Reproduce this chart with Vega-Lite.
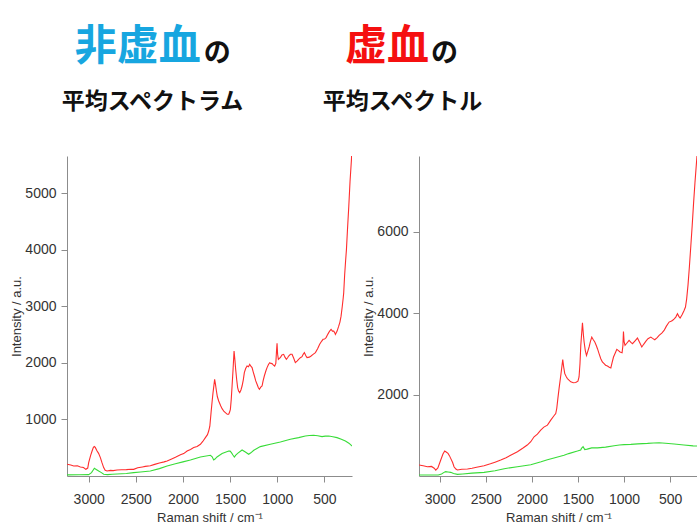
{
  "$schema": "https://vega.github.io/schema/vega-lite/v6.json",
  "padding": {"left": 10, "top": 26, "right": 0, "bottom": 0},
  "spacing": -30,
  "config": {
    "font": "Liberation Sans",
    "view": {"stroke": null},
    "axis": {"domainColor": "#8c8c8c", "tickColor": "#8c8c8c", "labelColor": "#333333", "titleColor": "#333333", "labelFontSize": 14, "titleFontSize": 13, "titleFontWeight": "normal", "grid": false, "tickSize": 6, "labelFont": "Liberation Sans", "titleFont": "Liberation Sans"},
    "title": {"font": "Noto Sans CJK JP", "fontWeight": "bold"}
  },
  "datasets": {
    "nonIsch": [
      {"shift":3229,"intensity":207,"trace":"mean"},{"shift":3190,"intensity":195,"trace":"mean"},{"shift":3159,"intensity":178,"trace":"mean"},{"shift":3120,"intensity":182,"trace":"mean"},{"shift":3088,"intensity":160,"trace":"mean"},{"shift":3055,"intensity":150,"trace":"mean"},{"shift":3030,"intensity":118,"trace":"mean"},{"shift":3010,"intensity":140,"trace":"mean"},{"shift":3000,"intensity":237,"trace":"mean"},{"shift":2980,"intensity":360,"trace":"mean"},{"shift":2964,"intensity":442,"trace":"mean"},{"shift":2950,"intensity":505,"trace":"mean"},{"shift":2940,"intensity":520,"trace":"mean"},{"shift":2930,"intensity":505,"trace":"mean"},{"shift":2911,"intensity":442,"trace":"mean"},{"shift":2895,"intensity":400,"trace":"mean"},{"shift":2876,"intensity":325,"trace":"mean"},{"shift":2860,"intensity":240,"trace":"mean"},{"shift":2841,"intensity":148,"trace":"mean"},{"shift":2825,"intensity":100,"trace":"mean"},{"shift":2805,"intensity":88,"trace":"mean"},{"shift":2770,"intensity":100,"trace":"mean"},{"shift":2740,"intensity":95,"trace":"mean"},{"shift":2699,"intensity":106,"trace":"mean"},{"shift":2650,"intensity":110,"trace":"mean"},{"shift":2600,"intensity":112,"trace":"mean"},{"shift":2550,"intensity":120,"trace":"mean"},{"shift":2523,"intensity":118,"trace":"mean"},{"shift":2480,"intensity":145,"trace":"mean"},{"shift":2430,"intensity":160,"trace":"mean"},{"shift":2400,"intensity":170,"trace":"mean"},{"shift":2346,"intensity":180,"trace":"mean"},{"shift":2300,"intensity":205,"trace":"mean"},{"shift":2250,"intensity":230,"trace":"mean"},{"shift":2200,"intensity":250,"trace":"mean"},{"shift":2168,"intensity":265,"trace":"mean"},{"shift":2120,"intensity":300,"trace":"mean"},{"shift":2080,"intensity":330,"trace":"mean"},{"shift":2027,"intensity":375,"trace":"mean"},{"shift":1992,"intensity":396,"trace":"mean"},{"shift":1956,"intensity":442,"trace":"mean"},{"shift":1920,"intensity":470,"trace":"mean"},{"shift":1886,"intensity":502,"trace":"mean"},{"shift":1850,"intensity":520,"trace":"mean"},{"shift":1815,"intensity":560,"trace":"mean"},{"shift":1790,"intensity":610,"trace":"mean"},{"shift":1762,"intensity":678,"trace":"mean"},{"shift":1740,"intensity":730,"trace":"mean"},{"shift":1727,"intensity":795,"trace":"mean"},{"shift":1715,"intensity":880,"trace":"mean"},{"shift":1702,"intensity":1120,"trace":"mean"},{"shift":1690,"intensity":1330,"trace":"mean"},{"shift":1681,"intensity":1473,"trace":"mean"},{"shift":1664,"intensity":1708,"trace":"mean"},{"shift":1655,"intensity":1620,"trace":"mean"},{"shift":1645,"intensity":1502,"trace":"mean"},{"shift":1635,"intensity":1400,"trace":"mean"},{"shift":1621,"intensity":1325,"trace":"mean"},{"shift":1600,"intensity":1240,"trace":"mean"},{"shift":1585,"intensity":1190,"trace":"mean"},{"shift":1565,"intensity":1140,"trace":"mean"},{"shift":1550,"intensity":1120,"trace":"mean"},{"shift":1530,"intensity":1090,"trace":"mean"},{"shift":1515,"intensity":1090,"trace":"mean"},{"shift":1505,"intensity":1130,"trace":"mean"},{"shift":1497,"intensity":1178,"trace":"mean"},{"shift":1488,"intensity":1350,"trace":"mean"},{"shift":1479,"intensity":1590,"trace":"mean"},{"shift":1468,"intensity":1900,"trace":"mean"},{"shift":1458,"intensity":2208,"trace":"mean"},{"shift":1449,"intensity":2050,"trace":"mean"},{"shift":1441,"intensity":1885,"trace":"mean"},{"shift":1430,"intensity":1700,"trace":"mean"},{"shift":1420,"intensity":1562,"trace":"mean"},{"shift":1410,"intensity":1500,"trace":"mean"},{"shift":1398,"intensity":1473,"trace":"mean"},{"shift":1385,"intensity":1520,"trace":"mean"},{"shift":1373,"intensity":1590,"trace":"mean"},{"shift":1360,"intensity":1700,"trace":"mean"},{"shift":1349,"intensity":1827,"trace":"mean"},{"shift":1335,"intensity":1900,"trace":"mean"},{"shift":1320,"intensity":1943,"trace":"mean"},{"shift":1305,"intensity":1930,"trace":"mean"},{"shift":1292,"intensity":1973,"trace":"mean"},{"shift":1280,"intensity":1940,"trace":"mean"},{"shift":1267,"intensity":1915,"trace":"mean"},{"shift":1255,"intensity":1840,"trace":"mean"},{"shift":1242,"intensity":1767,"trace":"mean"},{"shift":1228,"intensity":1680,"trace":"mean"},{"shift":1214,"intensity":1620,"trace":"mean"},{"shift":1200,"intensity":1560,"trace":"mean"},{"shift":1189,"intensity":1532,"trace":"mean"},{"shift":1175,"intensity":1570,"trace":"mean"},{"shift":1161,"intensity":1590,"trace":"mean"},{"shift":1150,"intensity":1680,"trace":"mean"},{"shift":1137,"intensity":1767,"trace":"mean"},{"shift":1120,"intensity":1860,"trace":"mean"},{"shift":1108,"intensity":1915,"trace":"mean"},{"shift":1093,"intensity":1970,"trace":"mean"},{"shift":1080,"intensity":2003,"trace":"mean"},{"shift":1068,"intensity":1990,"trace":"mean"},{"shift":1055,"intensity":1986,"trace":"mean"},{"shift":1040,"intensity":1960,"trace":"mean"},{"shift":1027,"intensity":1943,"trace":"mean"},{"shift":1015,"intensity":1990,"trace":"mean"},{"shift":1008,"intensity":2200,"trace":"mean"},{"shift":1002,"intensity":2345,"trace":"mean"},{"shift":996,"intensity":2150,"trace":"mean"},{"shift":988,"intensity":2062,"trace":"mean"},{"shift":977,"intensity":2080,"trace":"mean"},{"shift":967,"intensity":2092,"trace":"mean"},{"shift":950,"intensity":2140,"trace":"mean"},{"shift":932,"intensity":2150,"trace":"mean"},{"shift":918,"intensity":2100,"trace":"mean"},{"shift":903,"intensity":2062,"trace":"mean"},{"shift":890,"intensity":2090,"trace":"mean"},{"shift":879,"intensity":2120,"trace":"mean"},{"shift":860,"intensity":2150,"trace":"mean"},{"shift":843,"intensity":2150,"trace":"mean"},{"shift":825,"intensity":2080,"trace":"mean"},{"shift":808,"intensity":2003,"trace":"mean"},{"shift":790,"intensity":2030,"trace":"mean"},{"shift":773,"intensity":2062,"trace":"mean"},{"shift":755,"intensity":2090,"trace":"mean"},{"shift":737,"intensity":2109,"trace":"mean"},{"shift":725,"intensity":2150,"trace":"mean"},{"shift":712,"intensity":2180,"trace":"mean"},{"shift":698,"intensity":2130,"trace":"mean"},{"shift":684,"intensity":2092,"trace":"mean"},{"shift":660,"intensity":2100,"trace":"mean"},{"shift":641,"intensity":2120,"trace":"mean"},{"shift":620,"intensity":2150,"trace":"mean"},{"shift":595,"intensity":2180,"trace":"mean"},{"shift":572,"intensity":2250,"trace":"mean"},{"shift":550,"intensity":2327,"trace":"mean"},{"shift":530,"intensity":2380,"trace":"mean"},{"shift":514,"intensity":2415,"trace":"mean"},{"shift":498,"intensity":2420,"trace":"mean"},{"shift":482,"intensity":2445,"trace":"mean"},{"shift":468,"intensity":2490,"trace":"mean"},{"shift":454,"intensity":2533,"trace":"mean"},{"shift":440,"intensity":2570,"trace":"mean"},{"shift":429,"intensity":2592,"trace":"mean"},{"shift":415,"intensity":2560,"trace":"mean"},{"shift":401,"intensity":2560,"trace":"mean"},{"shift":390,"intensity":2530,"trace":"mean"},{"shift":383,"intensity":2500,"trace":"mean"},{"shift":365,"intensity":2560,"trace":"mean"},{"shift":348,"intensity":2647,"trace":"mean"},{"shift":335,"intensity":2720,"trace":"mean"},{"shift":323,"intensity":2824,"trace":"mean"},{"shift":310,"intensity":3000,"trace":"mean"},{"shift":300,"intensity":3150,"trace":"mean"},{"shift":295,"intensity":3235,"trace":"mean"},{"shift":285,"intensity":3550,"trace":"mean"},{"shift":275,"intensity":3800,"trace":"mean"},{"shift":266,"intensity":4000,"trace":"mean"},{"shift":255,"intensity":4350,"trace":"mean"},{"shift":241,"intensity":4765,"trace":"mean"},{"shift":228,"intensity":5200,"trace":"mean"},{"shift":213,"intensity":5588,"trace":"mean"},{"shift":205,"intensity":5900,"trace":"mean"},
      {"shift":3229,"intensity":20,"trace":"sd"},{"shift":3100,"intensity":22,"trace":"sd"},{"shift":3000,"intensity":25,"trace":"sd"},{"shift":2970,"intensity":60,"trace":"sd"},{"shift":2950,"intensity":110,"trace":"sd"},{"shift":2940,"intensity":136,"trace":"sd"},{"shift":2920,"intensity":115,"trace":"sd"},{"shift":2894,"intensity":88,"trace":"sd"},{"shift":2865,"intensity":60,"trace":"sd"},{"shift":2841,"intensity":30,"trace":"sd"},{"shift":2800,"intensity":25,"trace":"sd"},{"shift":2750,"intensity":30,"trace":"sd"},{"shift":2699,"intensity":35,"trace":"sd"},{"shift":2600,"intensity":45,"trace":"sd"},{"shift":2523,"intensity":60,"trace":"sd"},{"shift":2450,"intensity":70,"trace":"sd"},{"shift":2346,"intensity":88,"trace":"sd"},{"shift":2250,"intensity":130,"trace":"sd"},{"shift":2168,"intensity":177,"trace":"sd"},{"shift":2080,"intensity":215,"trace":"sd"},{"shift":2000,"intensity":250,"trace":"sd"},{"shift":1921,"intensity":283,"trace":"sd"},{"shift":1815,"intensity":336,"trace":"sd"},{"shift":1709,"intensity":366,"trace":"sd"},{"shift":1690,"intensity":340,"trace":"sd"},{"shift":1674,"intensity":285,"trace":"sd"},{"shift":1660,"intensity":300,"trace":"sd"},{"shift":1639,"intensity":336,"trace":"sd"},{"shift":1585,"intensity":396,"trace":"sd"},{"shift":1515,"intensity":442,"trace":"sd"},{"shift":1500,"intensity":440,"trace":"sd"},{"shift":1486,"intensity":413,"trace":"sd"},{"shift":1470,"intensity":370,"trace":"sd"},{"shift":1455,"intensity":336,"trace":"sd"},{"shift":1440,"intensity":370,"trace":"sd"},{"shift":1420,"intensity":401,"trace":"sd"},{"shift":1373,"intensity":460,"trace":"sd"},{"shift":1338,"intensity":424,"trace":"sd"},{"shift":1303,"intensity":383,"trace":"sd"},{"shift":1280,"intensity":410,"trace":"sd"},{"shift":1249,"intensity":454,"trace":"sd"},{"shift":1179,"intensity":519,"trace":"sd"},{"shift":1073,"intensity":560,"trace":"sd"},{"shift":967,"intensity":601,"trace":"sd"},{"shift":861,"intensity":648,"trace":"sd"},{"shift":773,"intensity":678,"trace":"sd"},{"shift":702,"intensity":707,"trace":"sd"},{"shift":660,"intensity":715,"trace":"sd"},{"shift":614,"intensity":719,"trace":"sd"},{"shift":570,"intensity":710,"trace":"sd"},{"shift":525,"intensity":696,"trace":"sd"},{"shift":490,"intensity":705,"trace":"sd"},{"shift":454,"intensity":707,"trace":"sd"},{"shift":410,"intensity":695,"trace":"sd"},{"shift":366,"intensity":678,"trace":"sd"},{"shift":320,"intensity":650,"trace":"sd"},{"shift":277,"intensity":618,"trace":"sd"},{"shift":240,"intensity":580,"trace":"sd"},{"shift":206,"intensity":530,"trace":"sd"}
    ],
    "isch": [
      {"shift":3225,"intensity":270,"trace":"mean"},{"shift":3180,"intensity":250,"trace":"mean"},{"shift":3134,"intensity":228,"trace":"mean"},{"shift":3090,"intensity":235,"trace":"mean"},{"shift":3060,"intensity":190,"trace":"mean"},{"shift":3043,"intensity":145,"trace":"mean"},{"shift":3020,"intensity":200,"trace":"mean"},{"shift":2989,"intensity":392,"trace":"mean"},{"shift":2965,"intensity":540,"trace":"mean"},{"shift":2946,"intensity":612,"trace":"mean"},{"shift":2930,"intensity":590,"trace":"mean"},{"shift":2910,"intensity":555,"trace":"mean"},{"shift":2895,"intensity":500,"trace":"mean"},{"shift":2881,"intensity":433,"trace":"mean"},{"shift":2860,"intensity":330,"trace":"mean"},{"shift":2845,"intensity":228,"trace":"mean"},{"shift":2825,"intensity":170,"trace":"mean"},{"shift":2808,"intensity":147,"trace":"mean"},{"shift":2760,"intensity":165,"trace":"mean"},{"shift":2699,"intensity":171,"trace":"mean"},{"shift":2650,"intensity":190,"trace":"mean"},{"shift":2600,"intensity":215,"trace":"mean"},{"shift":2519,"intensity":252,"trace":"mean"},{"shift":2450,"intensity":300,"trace":"mean"},{"shift":2400,"intensity":340,"trace":"mean"},{"shift":2338,"intensity":392,"trace":"mean"},{"shift":2280,"intensity":450,"trace":"mean"},{"shift":2220,"intensity":520,"trace":"mean"},{"shift":2157,"intensity":596,"trace":"mean"},{"shift":2100,"intensity":680,"trace":"mean"},{"shift":2050,"intensity":760,"trace":"mean"},{"shift":2012,"intensity":842,"trace":"mean"},{"shift":1976,"intensity":963,"trace":"mean"},{"shift":1940,"intensity":1030,"trace":"mean"},{"shift":1904,"intensity":1126,"trace":"mean"},{"shift":1870,"intensity":1200,"trace":"mean"},{"shift":1831,"intensity":1248,"trace":"mean"},{"shift":1795,"intensity":1371,"trace":"mean"},{"shift":1760,"intensity":1480,"trace":"mean"},{"shift":1741,"intensity":1535,"trace":"mean"},{"shift":1730,"intensity":1657,"trace":"mean"},{"shift":1718,"intensity":1900,"trace":"mean"},{"shift":1705,"intensity":2147,"trace":"mean"},{"shift":1686,"intensity":2473,"trace":"mean"},{"shift":1665,"intensity":2857,"trace":"mean"},{"shift":1655,"intensity":2680,"trace":"mean"},{"shift":1643,"intensity":2514,"trace":"mean"},{"shift":1625,"intensity":2430,"trace":"mean"},{"shift":1614,"intensity":2392,"trace":"mean"},{"shift":1578,"intensity":2311,"trace":"mean"},{"shift":1550,"intensity":2290,"trace":"mean"},{"shift":1524,"intensity":2294,"trace":"mean"},{"shift":1500,"intensity":2330,"trace":"mean"},{"shift":1488,"intensity":2433,"trace":"mean"},{"shift":1478,"intensity":2750,"trace":"mean"},{"shift":1469,"intensity":3207,"trace":"mean"},{"shift":1451,"intensity":3763,"trace":"mean"},{"shift":1440,"intensity":3450,"trace":"mean"},{"shift":1433,"intensity":3290,"trace":"mean"},{"shift":1420,"intensity":3080,"trace":"mean"},{"shift":1407,"intensity":2962,"trace":"mean"},{"shift":1395,"intensity":3050,"trace":"mean"},{"shift":1379,"intensity":3168,"trace":"mean"},{"shift":1365,"intensity":3300,"trace":"mean"},{"shift":1350,"intensity":3412,"trace":"mean"},{"shift":1335,"intensity":3350,"trace":"mean"},{"shift":1317,"intensity":3290,"trace":"mean"},{"shift":1300,"intensity":3200,"trace":"mean"},{"shift":1288,"intensity":3126,"trace":"mean"},{"shift":1270,"intensity":3000,"trace":"mean"},{"shift":1252,"intensity":2881,"trace":"mean"},{"shift":1235,"intensity":2800,"trace":"mean"},{"shift":1216,"intensity":2759,"trace":"mean"},{"shift":1200,"intensity":2720,"trace":"mean"},{"shift":1180,"intensity":2702,"trace":"mean"},{"shift":1160,"intensity":2670,"trace":"mean"},{"shift":1143,"intensity":2653,"trace":"mean"},{"shift":1130,"intensity":2780,"trace":"mean"},{"shift":1114,"intensity":2922,"trace":"mean"},{"shift":1095,"intensity":3020,"trace":"mean"},{"shift":1078,"intensity":3109,"trace":"mean"},{"shift":1060,"intensity":3080,"trace":"mean"},{"shift":1043,"intensity":3045,"trace":"mean"},{"shift":1021,"intensity":3028,"trace":"mean"},{"shift":1012,"intensity":3200,"trace":"mean"},{"shift":1006,"intensity":3550,"trace":"mean"},{"shift":999,"intensity":3300,"trace":"mean"},{"shift":989,"intensity":3207,"trace":"mean"},{"shift":970,"intensity":3260,"trace":"mean"},{"shift":945,"intensity":3329,"trace":"mean"},{"shift":925,"intensity":3280,"trace":"mean"},{"shift":908,"intensity":3248,"trace":"mean"},{"shift":880,"intensity":3320,"trace":"mean"},{"shift":854,"intensity":3388,"trace":"mean"},{"shift":830,"intensity":3280,"trace":"mean"},{"shift":807,"intensity":3168,"trace":"mean"},{"shift":785,"intensity":3240,"trace":"mean"},{"shift":764,"intensity":3305,"trace":"mean"},{"shift":740,"intensity":3370,"trace":"mean"},{"shift":709,"intensity":3412,"trace":"mean"},{"shift":690,"intensity":3380,"trace":"mean"},{"shift":666,"intensity":3346,"trace":"mean"},{"shift":640,"intensity":3400,"trace":"mean"},{"shift":619,"intensity":3452,"trace":"mean"},{"shift":590,"intensity":3510,"trace":"mean"},{"shift":565,"intensity":3574,"trace":"mean"},{"shift":540,"intensity":3680,"trace":"mean"},{"shift":511,"intensity":3780,"trace":"mean"},{"shift":490,"intensity":3800,"trace":"mean"},{"shift":474,"intensity":3819,"trace":"mean"},{"shift":455,"intensity":3860,"trace":"mean"},{"shift":438,"intensity":3902,"trace":"mean"},{"shift":420,"intensity":3983,"trace":"mean"},{"shift":405,"intensity":3920,"trace":"mean"},{"shift":391,"intensity":3877,"trace":"mean"},{"shift":370,"intensity":3960,"trace":"mean"},{"shift":348,"intensity":4064,"trace":"mean"},{"shift":333,"intensity":4150,"trace":"mean"},{"shift":320,"intensity":4350,"trace":"mean"},{"shift":305,"intensity":4700,"trace":"mean"},{"shift":290,"intensity":5150,"trace":"mean"},{"shift":275,"intensity":5650,"trace":"mean"},{"shift":260,"intensity":6150,"trace":"mean"},{"shift":245,"intensity":6700,"trace":"mean"},{"shift":230,"intensity":7200,"trace":"mean"},{"shift":215,"intensity":7650,"trace":"mean"},{"shift":205,"intensity":7950,"trace":"mean"},
      {"shift":3225,"intensity":25,"trace":"sd"},{"shift":3100,"intensity":25,"trace":"sd"},{"shift":3016,"intensity":25,"trace":"sd"},{"shift":2980,"intensity":50,"trace":"sd"},{"shift":2950,"intensity":95,"trace":"sd"},{"shift":2935,"intensity":106,"trace":"sd"},{"shift":2910,"intensity":100,"trace":"sd"},{"shift":2881,"intensity":90,"trace":"sd"},{"shift":2850,"intensity":60,"trace":"sd"},{"shift":2808,"intensity":41,"trace":"sd"},{"shift":2750,"intensity":50,"trace":"sd"},{"shift":2650,"intensity":70,"trace":"sd"},{"shift":2519,"intensity":90,"trace":"sd"},{"shift":2400,"intensity":130,"trace":"sd"},{"shift":2300,"intensity":180,"trace":"sd"},{"shift":2157,"intensity":229,"trace":"sd"},{"shift":2012,"intensity":275,"trace":"sd"},{"shift":1900,"intensity":350,"trace":"sd"},{"shift":1831,"intensity":400,"trace":"sd"},{"shift":1750,"intensity":450,"trace":"sd"},{"shift":1651,"intensity":510,"trace":"sd"},{"shift":1600,"intensity":550,"trace":"sd"},{"shift":1506,"intensity":612,"trace":"sd"},{"shift":1470,"intensity":640,"trace":"sd"},{"shift":1462,"intensity":678,"trace":"sd"},{"shift":1444,"intensity":719,"trace":"sd"},{"shift":1426,"intensity":650,"trace":"sd"},{"shift":1400,"intensity":660,"trace":"sd"},{"shift":1350,"intensity":690,"trace":"sd"},{"shift":1288,"intensity":690,"trace":"sd"},{"shift":1200,"intensity":710,"trace":"sd"},{"shift":1107,"intensity":744,"trace":"sd"},{"shift":1050,"intensity":760,"trace":"sd"},{"shift":1000,"intensity":770,"trace":"sd"},{"shift":926,"intensity":776,"trace":"sd"},{"shift":850,"intensity":790,"trace":"sd"},{"shift":745,"intensity":800,"trace":"sd"},{"shift":680,"intensity":810,"trace":"sd"},{"shift":619,"intensity":817,"trace":"sd"},{"shift":550,"intensity":805,"trace":"sd"},{"shift":456,"intensity":784,"trace":"sd"},{"shift":350,"intensity":760,"trace":"sd"},{"shift":250,"intensity":740,"trace":"sd"},{"shift":207,"intensity":735,"trace":"sd"}
    ]
  },
  "hconcat": [
    {
      "title": {"text": "の", "fontSize": 27, "color": "#111111", "anchor": "start", "dx": 193, "dy": 46},
      "vconcat": [
        {
          "title": {"text": "非虚血", "fontSize": 42, "color": "#17a6e0", "anchor": "start", "dx": 64, "offset": 22},
          "vconcat": [
            {
              "title": {"text": "平均スペクトラム", "fontSize": 23, "color": "#111111", "anchor": "middle", "dx": -57, "offset": 42},
              "width": 285,
              "height": 320,
              "data": {"name": "nonIsch"},
              "mark": {"type": "line", "clip": true, "strokeWidth": 1.1},
              "encoding": {
                "x": {"field": "shift", "type": "quantitative", "scale": {"domain": [3230, 207], "nice": false, "zero": false}, "axis": {"values": [3000, 2500, 2000, 1500, 1000, 500], "format": "d", "title": "Raman shift / cm⁻¹", "labelPadding": 10, "titlePadding": 5}},
                "y": {"field": "intensity", "type": "quantitative", "scale": {"domain": [0, 5654], "nice": false}, "axis": {"values": [1000, 2000, 3000, 4000, 5000], "format": "d", "title": "Intensity / a.u.", "labelPadding": 5, "titlePadding": 1}},
                "color": {"field": "trace", "type": "nominal", "scale": {"domain": ["mean", "sd"], "range": ["#ff2d2d", "#38dc38"]}, "legend": null}
              }
            }
          ]
        }
      ]
    },
    {
      "title": {"text": "の", "fontSize": 27, "color": "#111111", "anchor": "start", "dx": 109, "dy": 46},
      "vconcat": [
        {
          "title": {"text": "虚血", "fontSize": 42, "color": "#f51010", "anchor": "start", "dx": 23, "offset": 22},
          "vconcat": [
            {
              "title": {"text": "平均スペクトル", "fontSize": 23, "color": "#111111", "anchor": "middle", "dx": -156, "offset": 42},
              "width": 279,
              "height": 320,
              "data": {"name": "isch"},
              "mark": {"type": "line", "clip": true, "strokeWidth": 1.1},
              "encoding": {
                "x": {"field": "shift", "type": "quantitative", "scale": {"domain": [3225, 197], "nice": false, "zero": false}, "axis": {"values": [3000, 2500, 2000, 1500, 1000, 500], "format": "d", "title": "Raman shift / cm⁻¹", "labelPadding": 10, "titlePadding": 5}},
                "y": {"field": "intensity", "type": "quantitative", "scale": {"domain": [0, 7858], "nice": false}, "axis": {"values": [2000, 4000, 6000], "format": "d", "title": "Intensity / a.u.", "labelPadding": 5, "titlePadding": 1}},
                "color": {"field": "trace", "type": "nominal", "scale": {"domain": ["mean", "sd"], "range": ["#ff2d2d", "#38dc38"]}, "legend": null}
              }
            }
          ]
        }
      ]
    }
  ]
}
